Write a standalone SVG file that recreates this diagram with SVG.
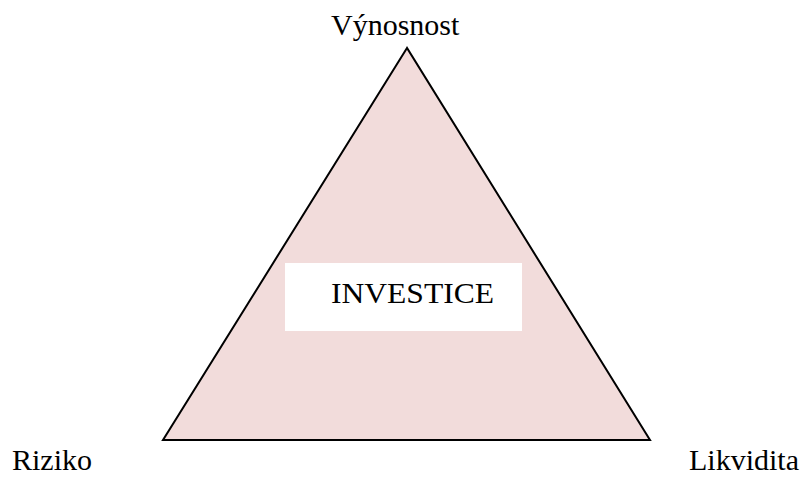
<svg xmlns="http://www.w3.org/2000/svg" width="802" height="477" viewBox="0 0 802 477">
<style>
.lbl{font-family:"Liberation Serif","Times New Roman",serif;font-size:30px;fill:#000}
</style>
<rect width="802" height="477" fill="#fff"/>
<g id="triangle">
<polygon points="407,48 163,440 650,440" fill="#F2DCDB" stroke="#000" stroke-width="2" stroke-linejoin="miter"/>
</g>
<g id="investice">
<rect x="285" y="263" width="237" height="68" fill="#fff"/>
<text class="lbl" x="331" y="303" textLength="163" lengthAdjust="spacingAndGlyphs">INVESTICE</text>
</g>
<g id="vynosnost">
<text class="lbl" x="331" y="35">Výnosnost</text>
</g>
<g id="riziko">
<text class="lbl" x="12" y="470">Riziko</text>
</g>
<g id="likvidita">
<text class="lbl" x="689" y="470">Likvidita</text>
</g>
<g id="connectors"></g>
</svg>
